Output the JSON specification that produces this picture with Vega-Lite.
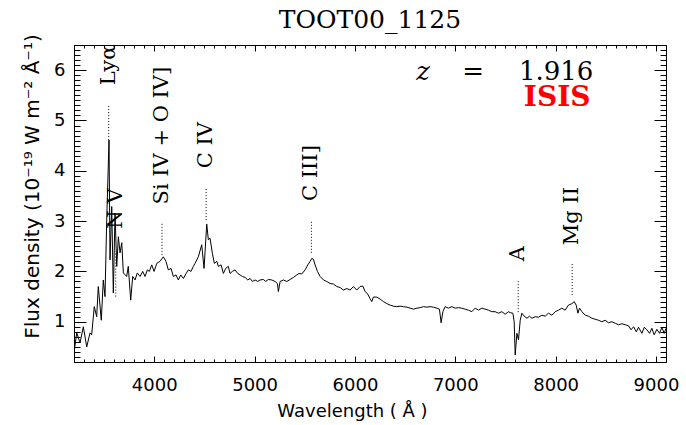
{
  "$schema": "https://vega.github.io/schema/vega-lite/v6.json",
  "autosize": "none",
  "width": 592,
  "height": 317,
  "padding": {"left": 74, "top": 45, "right": 20, "bottom": 63},
  "background": "white",
  "title": {"text": "TOOT00_1125", "font": "DejaVu Serif", "fontSize": 25, "fontWeight": "normal", "color": "black", "offset": 1},
  "config": {"view": {"stroke": null}, "axis": {"grid": false, "domainColor": "black", "tickColor": "black", "domainWidth": 1, "tickWidth": 1}},
  "datasets": {
    "spec": [
      {"wl":3205,"flux":0.45},{"wl":3227,"flux":0.78},{"wl":3260,"flux":0.58},{"wl":3293,"flux":0.9},{"wl":3327,"flux":0.5},{"wl":3360,"flux":0.78},{"wl":3376,"flux":0.74},{"wl":3402,"flux":1.3},{"wl":3426,"flux":1.1},{"wl":3442,"flux":1.7},{"wl":3472,"flux":1.03},{"wl":3492,"flux":1.83},{"wl":3509,"flux":1.5},{"wl":3526,"flux":3.02},{"wl":3549,"flux":4.61},{"wl":3559,"flux":2.23},{"wl":3576,"flux":3.29},{"wl":3592,"flux":1.57},{"wl":3609,"flux":3.16},{"wl":3626,"flux":2.1},{"wl":3642,"flux":2.69},{"wl":3659,"flux":2.37},{"wl":3676,"flux":2.57},{"wl":3692,"flux":1.97},{"wl":3725,"flux":1.9},{"wl":3741,"flux":2.1},{"wl":3765,"flux":1.43},{"wl":3785,"flux":1.9},{"wl":3808,"flux":1.83},{"wl":3831,"flux":1.97},{"wl":3858,"flux":1.9},{"wl":3885,"flux":2.0},{"wl":3908,"flux":1.9},{"wl":3931,"flux":2.03},{"wl":3951,"flux":2.0},{"wl":3975,"flux":2.13},{"wl":3998,"flux":2.0},{"wl":4025,"flux":2.16},{"wl":4057,"flux":2.2},{"wl":4090,"flux":2.29},{"wl":4117,"flux":2.2},{"wl":4140,"flux":2.03},{"wl":4167,"flux":2.06},{"wl":4190,"flux":1.9},{"wl":4217,"flux":1.93},{"wl":4240,"flux":1.83},{"wl":4264,"flux":1.93},{"wl":4290,"flux":1.86},{"wl":4317,"flux":1.96},{"wl":4340,"flux":2.03},{"wl":4366,"flux":2.0},{"wl":4389,"flux":2.1},
      {"wl":4406,"flux":2.16},{"wl":4439,"flux":2.29},{"wl":4473,"flux":2.53},{"wl":4496,"flux":2.06},{"wl":4523,"flux":2.94},{"wl":4539,"flux":2.63},{"wl":4556,"flux":2.66},{"wl":4579,"flux":2.36},{"wl":4599,"flux":2.16},{"wl":4623,"flux":2.2},{"wl":4639,"flux":2.1},{"wl":4666,"flux":2.13},{"wl":4689,"flux":1.96},{"wl":4712,"flux":2.06},{"wl":4738,"flux":2.1},{"wl":4755,"flux":1.96},{"wl":4778,"flux":2.0},{"wl":4805,"flux":2.03},{"wl":4832,"flux":1.96},{"wl":4855,"flux":1.93},{"wl":4878,"flux":1.9},{"wl":4905,"flux":1.88},{"wl":4932,"flux":1.83},{"wl":4955,"flux":1.86},{"wl":4978,"flux":1.8},{"wl":5005,"flux":1.83},{"wl":5032,"flux":1.8},{"wl":5054,"flux":1.83},{"wl":5087,"flux":1.84},{"wl":5111,"flux":1.8},{"wl":5137,"flux":1.84},{"wl":5171,"flux":1.83},{"wl":5204,"flux":1.8},{"wl":5227,"flux":1.76},{"wl":5237,"flux":1.6},{"wl":5254,"flux":1.8},{"wl":5287,"flux":1.83},{"wl":5321,"flux":1.8},{"wl":5354,"flux":1.84},{"wl":5386,"flux":1.88},{"wl":5420,"flux":1.93},{"wl":5443,"flux":1.96},{"wl":5470,"flux":1.95},{"wl":5503,"flux":2.03},{"wl":5530,"flux":2.13},{"wl":5553,"flux":2.2},{"wl":5570,"flux":2.26},{"wl":5586,"flux":2.24},{"wl":5603,"flux":2.13},{"wl":5626,"flux":2.0},{"wl":5653,"flux":1.9},{"wl":5686,"flux":1.83},{"wl":5719,"flux":1.8},{"wl":5752,"flux":1.76},{"wl":5785,"flux":1.75},{"wl":5819,"flux":1.7},{"wl":5852,"flux":1.68},{"wl":5885,"flux":1.63},
      {"wl":5919,"flux":1.66},{"wl":5952,"flux":1.63},{"wl":5985,"flux":1.7},{"wl":6018,"flux":1.63},{"wl":6051,"flux":1.7},{"wl":6078,"flux":1.71},{"wl":6101,"flux":1.6},{"wl":6124,"flux":1.56},{"wl":6151,"flux":1.46},{"wl":6168,"flux":1.4},{"wl":6184,"flux":1.49},{"wl":6218,"flux":1.49},{"wl":6251,"flux":1.45},{"wl":6284,"flux":1.4},{"wl":6318,"flux":1.36},{"wl":6351,"flux":1.33},{"wl":6383,"flux":1.31},{"wl":6417,"flux":1.3},{"wl":6450,"flux":1.31},{"wl":6483,"flux":1.3},{"wl":6517,"flux":1.29},{"wl":6550,"flux":1.27},{"wl":6583,"flux":1.25},{"wl":6617,"flux":1.27},{"wl":6650,"flux":1.28},{"wl":6683,"flux":1.3},{"wl":6716,"flux":1.29},{"wl":6749,"flux":1.3},{"wl":6782,"flux":1.29},{"wl":6816,"flux":1.27},{"wl":6842,"flux":1.25},{"wl":6859,"flux":0.98},{"wl":6876,"flux":1.2},{"wl":6899,"flux":1.3},{"wl":6932,"flux":1.27},{"wl":6966,"flux":1.3},{"wl":6999,"flux":1.27},{"wl":7031,"flux":1.28},{"wl":7065,"flux":1.27},{"wl":7098,"flux":1.25},{"wl":7131,"flux":1.23},{"wl":7165,"flux":1.2},{"wl":7198,"flux":1.27},{"wl":7231,"flux":1.23},{"wl":7265,"flux":1.27},{"wl":7298,"flux":1.25},{"wl":7331,"flux":1.23},{"wl":7364,"flux":1.2},{"wl":7397,"flux":1.2},{"wl":7430,"flux":1.17},{"wl":7464,"flux":1.2},{"wl":7497,"flux":1.15},{"wl":7530,"flux":1.2},
      {"wl":7547,"flux":1.18},{"wl":7574,"flux":1.17},{"wl":7587,"flux":1.0},{"wl":7597,"flux":0.34},{"wl":7614,"flux":0.77},{"wl":7630,"flux":0.64},{"wl":7647,"flux":1.03},{"wl":7664,"flux":1.17},{"wl":7687,"flux":1.11},{"wl":7714,"flux":1.07},{"wl":7740,"flux":1.11},{"wl":7764,"flux":1.07},{"wl":7796,"flux":1.1},{"wl":7829,"flux":1.09},{"wl":7863,"flux":1.13},{"wl":7896,"flux":1.11},{"wl":7929,"flux":1.17},{"wl":7963,"flux":1.13},{"wl":7996,"flux":1.2},{"wl":8029,"flux":1.23},{"wl":8062,"flux":1.27},{"wl":8095,"flux":1.23},{"wl":8128,"flux":1.33},{"wl":8162,"flux":1.36},{"wl":8185,"flux":1.4},{"wl":8205,"flux":1.33},{"wl":8222,"flux":1.17},{"wl":8238,"flux":1.27},{"wl":8262,"flux":1.2},{"wl":8295,"flux":1.13},{"wl":8328,"flux":1.11},{"wl":8361,"flux":1.07},{"wl":8394,"flux":1.05},{"wl":8427,"flux":1.03},{"wl":8461,"flux":1.0},{"wl":8494,"flux":1.03},{"wl":8527,"flux":0.98},{"wl":8560,"flux":1.0},{"wl":8594,"flux":0.97},{"wl":8627,"flux":0.94},{"wl":8660,"flux":0.96},{"wl":8694,"flux":0.94},{"wl":8727,"flux":0.92},{"wl":8751,"flux":0.84},{"wl":8777,"flux":0.9},{"wl":8804,"flux":0.8},{"wl":8826,"flux":0.89},{"wl":8860,"flux":0.77},{"wl":8883,"flux":0.89},{"wl":8910,"flux":0.84},{"wl":8936,"flux":0.77},{"wl":8959,"flux":0.87},{"wl":8982,"flux":0.74},{"wl":9009,"flux":0.85},{"wl":9036,"flux":0.77},{"wl":9059,"flux":0.89},{"wl":9082,"flux":0.77},{"wl":9100,"flux":0.87}
    ],
    "lines": [
      {"label":"Lyα","wl":3546,"ty":5.7,"y1":4.61,"y2":5.31},
      {"label":"N V","wl":3616,"ty":2.85,"y1":1.5,"y2":2.4},
      {"label":"Si IV + O IV]","wl":4077,"ty":3.33,"y1":2.33,"y2":2.98},
      {"label":"C IV","wl":4517,"ty":4.05,"y1":3.02,"y2":3.66},
      {"label":"C III]","wl":5566,"ty":3.4,"y1":2.37,"y2":3.02},
      {"label":"A","wl":7627,"ty":2.2,"y1":1.19,"y2":1.83},
      {"label":"Mg II","wl":8165,"ty":2.52,"y1":1.53,"y2":2.17}
    ]
  },
  "resolve": {"axis": {"x": "independent", "y": "independent"}},
  "layer": [
    {
      "data": {"name": "spec"},
      "mark": {"type": "line", "color": "black", "strokeWidth": 1, "clip": true},
      "encoding": {
        "x": {"field": "wl", "type": "quantitative", "scale": {"domain": [3200, 9100], "nice": false, "zero": false},
          "axis": {"orient": "bottom", "title": "Wavelength ( Å )", "titleX": 278, "ticks": false, "domain": true,
            "values": [4000,5000,6000,7000,8000,9000], "format": "d",
            "labelPadding": 14, "labelFont": "DejaVu Sans", "labelFontSize": 18, "labelColor": "black", "labelOverlap": false, "labelFlush": false, "labelBound": false,
            "titleFont": "DejaVu Sans", "titleFontSize": 18, "titleFontWeight": "normal", "titleColor": "black", "titlePadding": 8}},
        "y": {"field": "flux", "type": "quantitative", "scale": {"domain": [0.2, 6.5], "nice": false, "zero": false},
          "axis": {"orient": "left", "title": "Flux density (10⁻¹⁹ W m⁻² Å⁻¹)", "titleY": 141, "ticks": false, "domain": true,
            "values": [1,2,3,4,5,6], "format": "d",
            "labelPadding": 9, "labelFont": "DejaVu Sans", "labelFontSize": 18, "labelColor": "black", "labelOverlap": false, "labelFlush": false, "labelBound": false,
            "titleFont": "DejaVu Sans", "titleFontSize": 20, "titleFontWeight": "normal", "titleColor": "black", "titlePadding": 11}}
      }
    },
    {
      "data": {"name": "lines"},
      "mark": {"type": "rule", "color": "black", "strokeWidth": 1, "strokeDash": [1, 2]},
      "encoding": {
        "x": {"field": "wl", "type": "quantitative", "scale": {"domain": [3200, 9100], "nice": false, "zero": false},
          "axis": {"orient": "bottom", "title": null, "labels": false, "domain": false,
            "values": [3200,3300,3400,3500,3600,3700,3800,3900,4000,4100,4200,4300,4400,4500,4600,4700,4800,4900,5000,5100,5200,5300,5400,5500,5600,5700,5800,5900,6000,6100,6200,6300,6400,6500,6600,6700,6800,6900,7000,7100,7200,7300,7400,7500,7600,7700,7800,7900,8000,8100,8200,8300,8400,8500,8600,8700,8800,8900,9000,9100],
            "tickSize": {"expr": "datum.value % 1000 === 0 ? -6 : -3"}}},
        "y": {"field": "y1", "type": "quantitative", "scale": {"domain": [0.2, 6.5], "nice": false, "zero": false},
          "axis": {"orient": "left", "title": null, "labels": false, "domain": false,
            "values": [0.2,0.3,0.4,0.5,0.6,0.7,0.8,0.9,1,1.1,1.2,1.3,1.4,1.5,1.6,1.7,1.8,1.9,2,2.1,2.2,2.3,2.4,2.5,2.6,2.7,2.8,2.9,3,3.1,3.2,3.3,3.4,3.5,3.6,3.7,3.8,3.9,4,4.1,4.2,4.3,4.4,4.5,4.6,4.7,4.8,4.9,5,5.1,5.2,5.3,5.4,5.5,5.6,5.7,5.8,5.9,6,6.1,6.2,6.3,6.4,6.5],
            "tickSize": {"expr": "abs(datum.value - round(datum.value)) < 0.001 ? -12 : -6"}}},
        "y2": {"field": "y2"}
      }
    },
    {
      "data": {"name": "lines"},
      "mark": {"type": "text", "angle": 270, "align": "left", "baseline": "middle", "font": "DejaVu Serif", "fontSize": 21, "color": "black"},
      "encoding": {
        "x": {"field": "wl", "type": "quantitative", "scale": {"domain": [3200, 9100], "nice": false, "zero": false},
          "axis": {"orient": "top", "title": null, "labels": false, "domain": true,
            "values": [3200,3300,3400,3500,3600,3700,3800,3900,4000,4100,4200,4300,4400,4500,4600,4700,4800,4900,5000,5100,5200,5300,5400,5500,5600,5700,5800,5900,6000,6100,6200,6300,6400,6500,6600,6700,6800,6900,7000,7100,7200,7300,7400,7500,7600,7700,7800,7900,8000,8100,8200,8300,8400,8500,8600,8700,8800,8900,9000,9100],
            "tickSize": {"expr": "datum.value % 1000 === 0 ? -6 : -3"}}},
        "y": {"field": "ty", "type": "quantitative", "scale": {"domain": [0.2, 6.5], "nice": false, "zero": false},
          "axis": {"orient": "right", "title": null, "labels": false, "domain": true,
            "values": [0.2,0.3,0.4,0.5,0.6,0.7,0.8,0.9,1,1.1,1.2,1.3,1.4,1.5,1.6,1.7,1.8,1.9,2,2.1,2.2,2.3,2.4,2.5,2.6,2.7,2.8,2.9,3,3.1,3.2,3.3,3.4,3.5,3.6,3.7,3.8,3.9,4,4.1,4.2,4.3,4.4,4.5,4.6,4.7,4.8,4.9,5,5.1,5.2,5.3,5.4,5.5,5.6,5.7,5.8,5.9,6,6.1,6.2,6.3,6.4,6.5],
            "tickSize": {"expr": "abs(datum.value - round(datum.value)) < 0.001 ? -12 : -6"}}},
        "text": {"field": "label"}
      }
    },
    {
      "data": {"values": [{"t": "z", "wl": 6680, "fy": 5.81}]},
      "mark": {"type": "text", "align": "center", "baseline": "alphabetic", "font": "DejaVu Serif", "fontStyle": "italic", "fontSize": 26, "color": "black"},
      "encoding": {
        "x": {"field": "wl", "type": "quantitative", "axis": null},
        "y": {"field": "fy", "type": "quantitative", "axis": null},
        "text": {"field": "t"}
      }
    },
    {
      "data": {"values": [{"t": "=", "wl": 7178, "fy": 5.81}, {"t": "1.916", "wl": 8005, "fy": 5.81}]},
      "mark": {"type": "text", "align": "center", "baseline": "alphabetic", "font": "DejaVu Serif", "fontSize": 26, "color": "black"},
      "encoding": {
        "x": {"field": "wl", "type": "quantitative", "axis": null},
        "y": {"field": "fy", "type": "quantitative", "axis": null},
        "text": {"field": "t"}
      }
    },
    {
      "data": {"values": [{"t": "ISIS", "wl": 8015, "fy": 5.29}]},
      "mark": {"type": "text", "align": "center", "baseline": "alphabetic", "font": "DejaVu Serif", "fontWeight": "bold", "fontSize": 28, "color": "#ff0000"},
      "encoding": {
        "x": {"field": "wl", "type": "quantitative", "axis": null},
        "y": {"field": "fy", "type": "quantitative", "axis": null},
        "text": {"field": "t"}
      }
    }
  ]
}
